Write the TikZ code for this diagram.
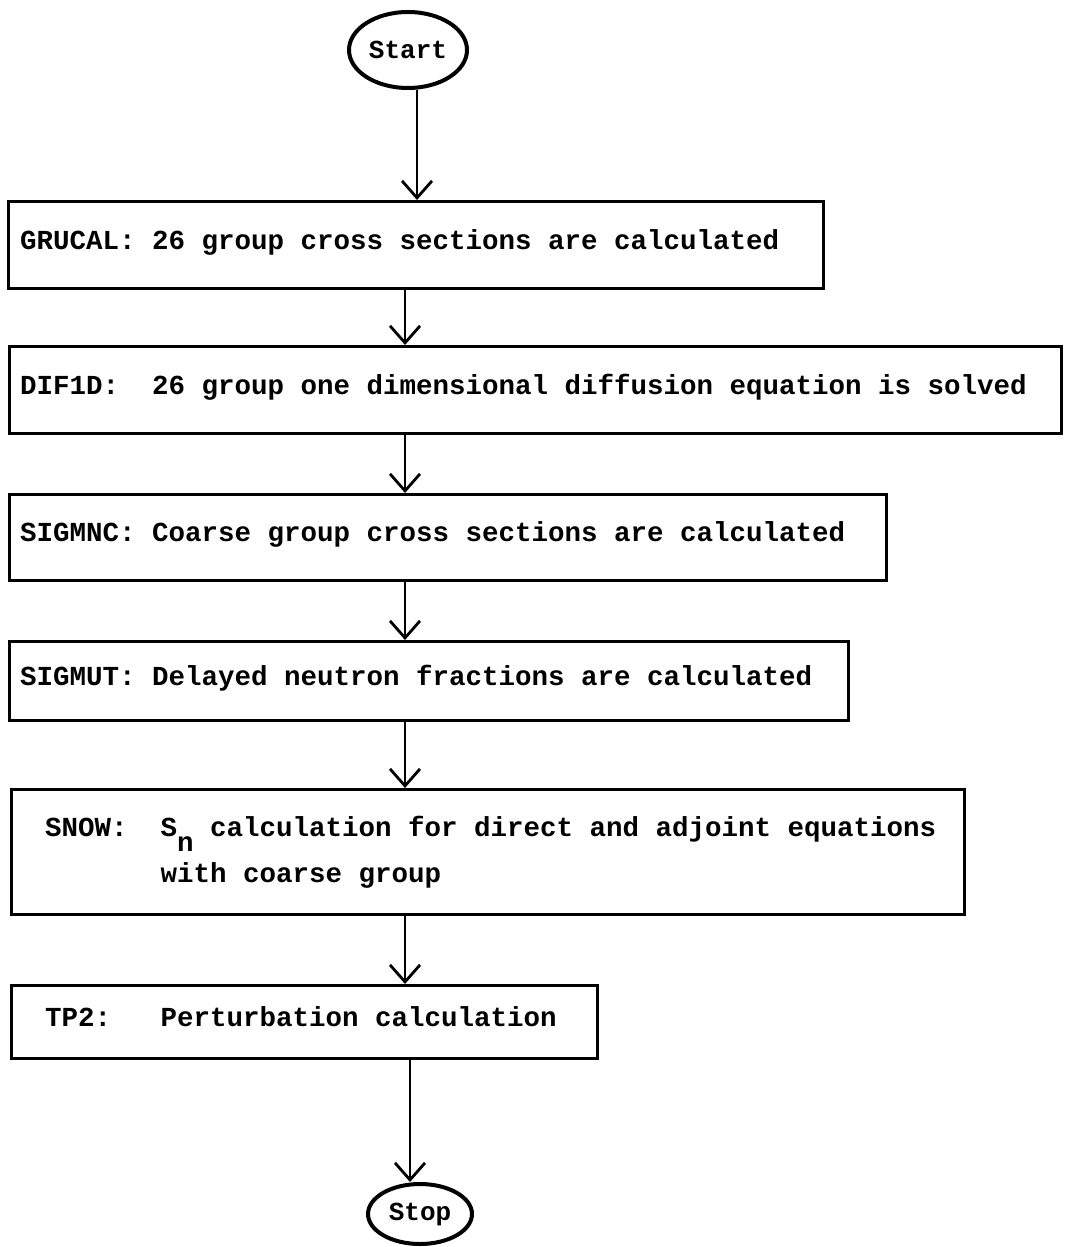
\documentclass[tikz,border=0pt]{standalone}
\usepackage{fontspec}
\newfontfamily\tw{Liberation Mono}
\usetikzlibrary{arrows.meta,shapes.geometric}
\begin{document}
\begin{tikzpicture}[x=1pt,y=-1pt,
  box/.style={draw, line width=3pt, rectangle, inner sep=0pt, anchor=north west},
  txt/.style={anchor=base west, inner sep=0pt, font=\tw\bfseries\fontsize{27.5}{33}\selectfont},
  term/.style={draw, ellipse, line width=4pt, inner sep=0pt, font=\tw\bfseries\fontsize{26}{30}\selectfont},
  arr/.style={line width=2.8pt, -{Straight Barb[length=17pt,width=30pt]}}]
\useasboundingbox (0,0) rectangle (1068,1247);

% terminals
\node[term, minimum width=118pt, minimum height=76pt] (start) at (408,50) {Start};
\node[term, minimum width=104pt, minimum height=60pt] (stop) at (420,1214) {Stop};

% boxes
\node[box, minimum width=815pt, minimum height=87pt] (b1) at (7,200) {};
\node[box, minimum width=1052pt, minimum height=87pt] (b2) at (8,345) {};
\node[box, minimum width=877pt, minimum height=86pt] (b3) at (8,493) {};
\node[box, minimum width=839pt, minimum height=79pt] (b4) at (8,640) {};
\node[box, minimum width=953pt, minimum height=125pt] (b5) at (10,788) {};
\node[box, minimum width=586pt, minimum height=73pt] (b6) at (10,984) {};

% texts
\node[txt] (t1) at (20,249) {GRUCAL: 26 group cross sections are calculated};
\node[txt] (t2) at (20,394) {DIF1D:~~26 group one dimensional diffusion equation is solved};
\node[txt] (t3) at (20,541) {SIGMNC: Coarse group cross sections are calculated};
\node[txt] (t4) at (20,685) {SIGMUT: Delayed neutron fractions are calculated};
\node[txt] (t5a) at (45,836) {SNOW:~~S\raisebox{-15pt}{n}~calculation for direct and adjoint equations};
\node[txt] (t5b) at (160.5,882) {with coarse group};
\node[txt] (t6) at (45,1026) {TP2:~~~Perturbation calculation};

% connectors
\coordinate (a0) at (417,0);
\coordinate (am) at (405,0);
\coordinate (az) at (410,0);
\draw[arr] (start.south -| a0) -- (b1.north -| a0);
\draw[arr] (b1.south -| am) -- (b2.north -| am);
\draw[arr] (b2.south -| am) -- (b3.north -| am);
\draw[arr] (b3.south -| am) -- (b4.north -| am);
\draw[arr] (b4.south -| am) -- (b5.north -| am);
\draw[arr] (b5.south -| am) -- (b6.north -| am);
\draw[arr] (b6.south -| az) -- (stop.north -| az);
\end{tikzpicture}
\end{document}
